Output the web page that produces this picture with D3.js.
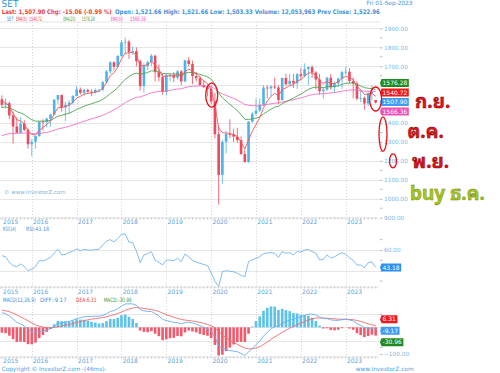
<!DOCTYPE html>
<html>
<head>
<meta charset="utf-8">
<script src="https://cdn.jsdelivr.net/npm/d3@7"></script>
<style>
body { margin: 0; background: #fff; }
svg { display: block; font-family: "DejaVu Sans", Verdana, sans-serif; }
</style>
</head>
<body>
<div id="chart"></div>
<script>
// monthly bars, May 2015 .. Sep 2023
var months = d3.timeMonth.range(new Date(2015, 4, 1), new Date(2023, 9, 1));

var opens = [1526,1496,1505,1440,1382,1349,1397,1364,
  1288,1301,1332,1408,1405,1424,1445,1524,1548,1483,1496,1508,
  1543,1577,1560,1575,1566,1562,1575,1576,1616,1673,1721,1697,
  1754,1826,1830,1776,1780,1727,1595,1701,1722,1756,1669,1642,
  1564,1653,1653,1639,1673,1620,1731,1712,1648,1637,1601,1590,
  1580,1514,1341,1126,1301,1342,1340,1328,1310,1237,1194,1408,
  1449,1466,1497,1587,1583,1593,1588,1521,1638,1605,1623,1610,
  1658,1648,1685,1695,1667,1630,1568,1576,1639,1589,1609,1635,
  1669,1671,1622,1609,1529,1533,1503,1556,1521.66];
var highs = [1546,1530,1514,1460,1430,1431,1415,1372,
  1315,1335,1408,1420,1428,1448,1525,1550,1551,1512,1520,1548,
  1596,1588,1582,1582,1578,1583,1580,1622,1680,1727,1727,1760,
  1838,1852,1840,1805,1800,1735,1715,1730,1765,1760,1710,1660,
  1660,1660,1670,1680,1680,1735,1749,1730,1670,1650,1625,1600,
  1600,1560,1380,1310,1360,1420,1370,1375,1330,1260,1410,1460,
  1530,1530,1600,1600,1600,1640,1600,1640,1660,1660,1660,1665,
  1690,1715,1700,1705,1675,1660,1590,1645,1660,1620,1640,1675,
  1697,1690,1640,1620,1570,1540,1570,1600,1521.66];
var lows = [1481,1476,1420,1291,1348,1344,1357,1265,
  1224,1265,1326,1360,1378,1380,1442,1500,1460,1410,1450,1500,
  1540,1550,1545,1555,1543,1555,1563,1568,1610,1660,1680,1690,
  1750,1762,1740,1760,1700,1570,1560,1680,1700,1620,1620,1550,
  1545,1620,1615,1630,1600,1615,1700,1605,1620,1595,1585,1540,
  1500,1320,969,1080,1240,1320,1300,1295,1230,1190,1190,1400,
  1440,1460,1490,1530,1540,1580,1500,1520,1595,1600,1585,1580,
  1625,1640,1600,1640,1580,1550,1530,1570,1575,1560,1590,1580,
  1655,1610,1530,1520,1510,1470,1490,1520,1503.33];
var closes = [1496,1505,1440,1382,1349,1397,1364,1288,
  1301,1332,1408,1405,1424,1445,1524,1548,1483,1496,1508,1543,
  1577,1560,1575,1566,1562,1575,1576,1616,1673,1721,1697,1754,
  1826,1830,1776,1780,1727,1595,1701,1722,1756,1669,1642,1564,
  1653,1653,1639,1673,1620,1731,1712,1648,1637,1601,1590,1580,
  1514,1341,1126,1301,1342,1340,1328,1310,1237,1194,1408,1449,
  1466,1497,1587,1583,1593,1588,1521,1638,1605,1623,1610,1658,
  1648,1685,1695,1667,1630,1568,1576,1639,1589,1609,1635,1669,
  1671,1622,1609,1529,1533,1503,1556,1565,1507.90];

var ema5 = [1513,1510,1487,1452,1418,1411,1395,1359,
  1340,1337,1361,1376,1392,1410,1448,1481,1482,1487,1494,1510,
  1532,1541,1552,1557,1559,1564,1568,1584,1614,1650,1666,1695,
  1739,1769,1771,1774,1758,1704,1703,1709,1725,1706,1685,1645,
  1648,1650,1646,1655,1643,1672,1685,1673,1661,1641,1624,1609,
  1577,1498,1374,1350,1347,1345,1339,1329,1298,1263,1311,1357,
  1393,1428,1481,1515,1541,1557,1545,1576,1586,1598,1602,1621,
  1630,1648,1664,1665,1653,1625,1609,1619,1609,1609,1618,1635,
  1647,1639,1629,1596,1575,1551,1553,1557,1540.72];
var ema20 = [1483,1485,1481,1472,1460,1454,1445,1430,
  1418,1410,1410,1410,1411,1414,1425,1436,1441,1446,1452,1461,
  1472,1480,1489,1496,1502,1509,1515,1525,1539,1556,1570,1587,
  1610,1631,1645,1658,1664,1658,1662,1667,1676,1675,1672,1662,
  1661,1660,1658,1660,1656,1663,1668,1666,1663,1657,1651,1644,
  1632,1604,1559,1534,1516,1499,1483,1466,1444,1420,1419,1422,
  1426,1433,1448,1461,1473,1484,1488,1502,1512,1522,1531,1543,
  1553,1565,1578,1586,1590,1588,1587,1592,1592,1593,1597,1604,
  1610,1611,1611,1603,1596,1587,1584,1582,1576.28];
var ema50 = [1333,1340,1344,1345,1345,1347,1348,1346,
  1344,1344,1346,1348,1351,1355,1362,1369,1373,1378,1383,1389,
  1396,1403,1410,1416,1422,1428,1434,1441,1450,1460,1470,1481,
  1494,1508,1518,1528,1536,1538,1545,1552,1560,1564,1567,1567,
  1570,1573,1576,1580,1581,1587,1592,1594,1596,1596,1596,1595,
  1592,1582,1564,1554,1546,1538,1530,1521,1510,1498,1494,1492,
  1491,1491,1495,1498,1502,1505,1506,1511,1515,1519,1523,1528,
  1533,1539,1545,1550,1553,1554,1555,1558,1559,1561,1564,1568,
  1572,1574,1575,1573,1571,1568,1568,1568,1566.36];

var rsi = [54.5,53.5,48,45,43.9,46.5,44,40,
  41.4,44,49.7,49.5,51,53,57,60.6,55.2,55.8,57.5,59,
  61,59.3,60.6,60,59.8,60.5,60.6,64.8,68.5,70,67.7,71,
  75.2,75.5,67.7,67.1,59,47.7,55.2,56.5,58.4,50.3,48,45.5,
  50.3,50.3,49.5,52,48.7,56.1,53.5,49.7,48.5,47.1,46,45,
  38,30,24.6,39.1,40,39.5,39,37.5,35.5,34.2,48.7,50.5,
  52,53.5,56.5,57.2,57.4,56.8,52.9,58.4,56.8,57.4,55.2,58.4,
  58,60,60.6,58.4,57,50.3,51,55.2,52,53.5,55.5,57.4,
  56,52.5,50,45.5,45.5,42.9,47.7,48.7,43.18];

var diff = [55,51.4,42.7,30.8,18.5,12.4,4.9,-7.1,
  -15.3,-19.2,-15.9,-13.4,-9.8,-5.2,4.8,14.5,16.7,19.3,22.1,26.9,
  33,36.1,39.3,40.6,40.9,41.7,41.9,44.7,51,59.2,63,69.8,
  80.1,87.6,88.2,87.9,82.5,66.8,62.2,59.5,59.4,51.7,42.9,29.4,
  25.6,22.3,18.3,17.6,12.7,17.6,19.7,16,12.1,6,0.3,-5,
  -14.3,-35.3,-68.4,-79.7,-84.3,-87.1,-89.3,-91.5,-97.9,-105.3,-92.8,-78.7,
  -65.4,-51.7,-33.3,-18.7,-6.3,3.1,5,15.8,21.5,27.1,30.2,36.1,
  39.5,44.7,49,49.6,46.5,38.7,32.7,32.6,28.2,26.1,26.2,28.7,
  30.4,27.5,23.9,14.5,7.3,-0.9,-3.1,-4,-9.17];
var dea = [65,62.3,58.4,52.9,46,39.3,32.4,24.5,
  16.5,9.4,4.3,0.8,-1.3,-2.1,-0.7,2.3,5.2,8,10.8,14,
  17.8,21.5,25.1,28.2,30.7,32.9,34.7,36.7,39.6,43.5,47.4,51.9,
  57.5,63.5,68.4,72.3,74.3,72.8,70.7,68.5,66.7,63.7,59.5,53.5,
  47.9,42.8,37.9,33.8,29.6,27.2,25.7,23.8,21.5,18.4,14.8,10.8,
  5.8,-2.4,-15.6,-28.4,-39.6,-49.1,-57.1,-64,-70.8,-77.7,-80.7,-80.3,
  -77.3,-72.2,-64.4,-55.3,-45.5,-35.8,-27.6,-18.9,-10.8,-3.2,3.5,10,
  15.9,21.7,27.2,31.7,34.7,35.5,34.9,34.4,33.2,31.8,30.7,30.3,
  30.3,29.7,28.5,25.7,22,17.4,13.3,9.8,6.31];
var macdHist = [-20,-21.8,-31.4,-44.2,-55,-53.8,-55,-63.2,
  -63.6,-57.2,-40.4,-28.4,-17,-6.2,11,24.4,23,22.6,22.6,25.8,
  30.4,29.2,28.4,24.8,20.4,17.6,14.4,16,22.8,31.4,31.2,35.8,
  45.2,48.2,39.6,31.2,16.4,-12,-17,-18,-14.6,-24,-33.2,-48.2,
  -44.6,-41,-39.2,-32.4,-33.8,-19.2,-12,-15.6,-18.8,-24.8,-29,-31.6,
  -40.2,-65.8,-105.6,-102.6,-89.4,-76,-64.4,-55,-54.2,-55.2,-24.2,3.2,
  23.8,41,62.2,73.2,78.4,77.8,65.2,69.4,64.6,60.6,53.4,52.2,
  47.2,46,43.6,35.8,23.6,6.4,-4.4,-3.6,-10,-11.4,-9,-3.2,
  0.2,-4.4,-9.2,-22.4,-29.4,-36.6,-32.8,-27.6,-30.96];

var priceTicks = [900,1000,1100,1200,1300,1400,1500,1600,1700,1800,1900];
var rsiTicks = [40, 60];
var macdTicks = [-100, -50, 0, 50];

// hand-drawn notes on the right
var notes = [
  {text: 'ก.ย.', price: 1480, color: '#d8161c', edge: '#7a0000'},
  {text: 'ต.ค.', price: 1320, color: '#d8161c', edge: '#7a0000'},
  {text: 'พ.ย.', price: 1160, color: '#d8161c', edge: '#7a0000'},
  {text: 'buy ธ.ค.', price: 995, color: '#a6c61c', edge: '#6b7d10'}
];

// --- layout ---
var svgWidth = 500, svgHeight = 373;
var axisX = 380;
var blue = '#3a93da', axisBlue = '#7ab9e6';
var upColor = '#4db4e6', downColor = '#ec4a5e';

var svg = d3.select('#chart').append('svg')
  .attr('width', svgWidth)
  .attr('height', svgHeight);

var idx = d3.range(months.length);
var x = d3.scaleBand().domain(idx).range([0, 377.5]).paddingInner(0.3).paddingOuter(0.15);
var cx = function(i) { return x(i) + x.bandwidth() / 2; };

var yMain = d3.scaleLinear().domain([900, 1900]).range([217.7, 28.4]);
var yRsi = d3.scaleLinear().domain([40, 60]).range([270.7, 250]);
var yMacd = d3.scaleLinear().domain([-100, 50]).range([354, 314]);

var panels = [
  {top: 22, bottom: 217.5, labelY: 224},
  {top: 224.5, bottom: 286.5, labelY: 293.5},
  {top: 294, bottom: 356.5, labelY: 363}
];

// clip paths
var defs = svg.append('defs');
panels.forEach(function(p, k) {
  defs.append('clipPath').attr('id', 'clip' + k)
    .append('rect').attr('x', 0).attr('y', p.top).attr('width', axisX).attr('height', p.bottom - p.top);
});

// top border
svg.append('line').attr('x1', 0).attr('x2', axisX).attr('y1', 22).attr('y2', 22)
  .attr('stroke', '#e4e4e4');

// horizontal grids
function hGrid(scale, ticks) {
  svg.append('g').selectAll('line').data(ticks).enter().append('line')
    .attr('x1', 0).attr('x2', axisX)
    .attr('y1', d => Math.round(scale(d)) + 0.5).attr('y2', d => Math.round(scale(d)) + 0.5)
    .attr('stroke', '#e6e6e6');
}
hGrid(yMain, priceTicks.slice(1));
hGrid(yRsi, rsiTicks);
hGrid(yMacd, [-50, 0, 50]);

// vertical year grids + month axes + year labels
var yearIdx = idx.filter(i => i === 0 || months[i].getMonth() === 0);
panels.forEach(function(p) {
  svg.append('g').selectAll('line').data(yearIdx.filter(i => i > 0)).enter().append('line')
    .attr('x1', d => Math.round(cx(d)) + 0.5).attr('x2', d => Math.round(cx(d)) + 0.5)
    .attr('y1', p.top).attr('y2', p.bottom)
    .attr('stroke', '#d4d4d4').attr('stroke-dasharray', '1,2');

  var ax = svg.append('g')
    .attr('transform', `translate(0, ${p.bottom})`)
    .call(d3.axisBottom(x).tickSize(2).tickFormat(''));
  ax.select('.domain').attr('stroke', '#e0e0e0');
  ax.selectAll('.tick line').attr('stroke', '#c8c8c8');

  svg.append('g').selectAll('text').data(yearIdx).enter().append('text')
    .attr('x', d => cx(d) + 1.2)
    .attr('y', p.labelY)
    .attr('font-size', '6px')
    .attr('fill', '#5aa2dc')
    .text(d => months[d].getFullYear());
});

// ---- main panel: candles ----
var main = svg.append('g').attr('clip-path', 'url(#clip0)');
var candleColor = i => closes[i] >= opens[i] ? upColor : downColor;

main.append('g').selectAll('line').data(idx).enter().append('line')
  .attr('x1', d => cx(d)).attr('x2', d => cx(d))
  .attr('y1', d => yMain(highs[d])).attr('y2', d => yMain(lows[d]))
  .attr('stroke', candleColor).attr('stroke-width', 0.8);

main.append('g').selectAll('rect').data(idx).enter().append('rect')
  .attr('x', d => x(d))
  .attr('width', x.bandwidth())
  .attr('y', d => yMain(Math.max(opens[d], closes[d])))
  .attr('height', d => Math.max(0.8, Math.abs(yMain(opens[d]) - yMain(closes[d]))))
  .attr('fill', candleColor);

// EMA lines
var emaLines = [
  {data: ema50, color: '#f470c4'},
  {data: ema20, color: '#4ea34e'},
  {data: ema5, color: '#f2545b'}
];
emaLines.forEach(function(e) {
  main.append('path').datum(e.data)
    .attr('fill', 'none').attr('stroke', e.color).attr('stroke-width', 0.9)
    .attr('d', d3.line().x((d, i) => cx(i)).y(d => yMain(d)));
});

// watermark
svg.append('text').attr('x', 4).attr('y', 193.5)
  .attr('font-size', '5.5px').attr('fill', '#79b6e2')
  .text('© www.investorZ.com');

// ---- RSI ----
var rsiG = svg.append('g').attr('clip-path', 'url(#clip1)');
rsiG.append('path').datum(rsi)
  .attr('fill', 'none').attr('stroke', '#72b4f0').attr('stroke-width', 0.9)
  .attr('d', d3.line().x((d, i) => cx(i)).y(d => yRsi(d)));

// ---- MACD ----
var macdG = svg.append('g').attr('clip-path', 'url(#clip2)');
macdG.append('g').selectAll('rect').data(idx).enter().append('rect')
  .attr('x', d => x(d))
  .attr('width', x.bandwidth())
  .attr('y', d => yMacd(Math.max(0, macdHist[d])))
  .attr('height', d => Math.abs(yMacd(macdHist[d]) - yMacd(0)))
  .attr('fill', d => macdHist[d] >= 0 ? '#5cc2ea' : '#f15a6d');
macdG.append('path').datum(dea)
  .attr('fill', 'none').attr('stroke', '#f26a6a').attr('stroke-width', 0.9)
  .attr('d', d3.line().x((d, i) => cx(i)).y(d => yMacd(d)));
macdG.append('path').datum(diff)
  .attr('fill', 'none').attr('stroke', '#6aaef0').attr('stroke-width', 0.9)
  .attr('d', d3.line().x((d, i) => cx(i)).y(d => yMacd(d)));

// ---- value tags on the right axis (they sit over the axis labels) ----
var tagYs = [];
function tags(list, anchorY, gap) {
  list.forEach(function(t, k) {
    var yy = anchorY + (k - t.anchor) * gap;
    tagYs.push(yy);
    t.y = yy;
  });
  return list;
}
var last = closes[closes.length - 1];
var allTags = [].concat(
  tags([
    {label: ema20[100].toFixed(2), color: '#1f8a1f', anchor: 2},
    {label: ema5[100].toFixed(2), color: '#f01a1a', anchor: 2},
    {label: last.toFixed(2), color: '#3f9cf2', anchor: 2},
    {label: ema50[100].toFixed(2), color: '#f04fb4', anchor: 2}
  ], yMain(last) - 0.5, 9.5),
  tags([{label: rsi[100].toFixed(2), color: '#2f8ff0', anchor: 0}], yRsi(rsi[100]), 0),
  tags([
    {label: dea[100].toFixed(2), color: '#f01a1a', anchor: 1},
    {label: diff[100].toFixed(2), color: '#3f9cf2', anchor: 1},
    {label: macdHist[100].toFixed(2), color: '#1f8a1f', anchor: 1}
  ], yMacd(diff[100]) + 1, 11.5)
);

// right axes, skipping labels hidden under a tag
function rightAxis(scale, ticks, minor) {
  var shown = ticks.filter(v => !tagYs.some(t => Math.abs(scale(v) - t) < 8.5));
  var g = svg.append('g').attr('transform', `translate(${axisX}, 0)`)
    .call(d3.axisRight(scale).tickValues(ticks).tickSize(2.5).tickPadding(1.5).tickFormat(d3.format('.2f')));
  g.select('.domain').remove();
  g.selectAll('.tick line').attr('stroke', '#bbb');
  g.selectAll('.tick text').filter(d => shown.indexOf(d) < 0).remove();
  g.selectAll('text').attr('font-size', '5.8px').attr('fill', axisBlue).attr('font-family', 'DejaVu Sans');
  svg.append('g').selectAll('line').data(minor).enter().append('line')
    .attr('x1', axisX).attr('x2', axisX + 2.5)
    .attr('y1', d => scale(d)).attr('y2', d => scale(d))
    .attr('stroke', '#bbb');
}
rightAxis(yMain, priceTicks, d3.range(950, 1900, 100));
rightAxis(yRsi, rsiTicks, [30, 50, 70]);
rightAxis(yMacd, macdTicks, [-75, -25, 25]);

allTags.forEach(function(t) {
  var g = svg.append('g').attr('transform', `translate(${axisX}, ${t.y})`);
  var txt = g.append('text').attr('x', 2.5).attr('y', 2.1)
    .attr('font-size', '6px').attr('fill', '#fff').text(t.label);
  var w = txt.node().getComputedTextLength() + 4;
  g.insert('path', 'text')
    .attr('d', `M0,0 L1.5,-4 L${w},-4 L${w},4 L1.5,4 Z`)
    .attr('fill', t.color);
});

// text squeezed horizontally to the width it has in the picture
function squeezed(d, y, size, weight) {
  var t = svg.append('text')
    .attr('font-size', size + 'px').attr('font-weight', weight || 'normal')
    .attr('fill', d.c).text(d.t);
  var natural = t.node().getComputedTextLength();
  t.attr('transform', `translate(${d.x}, ${y}) scale(${d.w / natural}, 1)`);
}
function legendRow(items, y) {
  items.forEach(d => squeezed(d, y, 6));
}

// ---- header ----
svg.append('text').attr('x', 1.5).attr('y', 7.2)
  .attr('font-size', '9px').attr('fill', '#2f8fe0').text('SET');
svg.append('text').attr('x', 366.5).attr('y', 5.2)
  .attr('font-size', '5.8px').attr('fill', blue).text('Fri 01-Sep-2023');

var fmt = d3.format(',.2f');
var prev = 1522.96;
squeezed({x: 1.7, w: 110, c: '#ea4141',
  t: `Last: ${fmt(last)} Chg: ${(last - prev).toFixed(2)} (${((last - prev) / prev * 100).toFixed(2)} %)`}, 13.9, 6.3, 'bold');
squeezed({x: 115, w: 265, c: blue,
  t: `Open: ${fmt(opens[100])} High: ${fmt(highs[100])} Low: ${fmt(lows[100])} Volume: 12,053,963 Prev Close: ${fmt(prev)}`}, 13.9, 6.3, 'bold');

legendRow([
  {x: 6.7, w: 7, t: 'SET', c: blue},
  {x: 16, w: 11, t: 'EMA(5)', c: '#ee3b3b'},
  {x: 29.3, w: 12.5, t: ema5[100].toFixed(2), c: '#ee3b3b'},
  {x: 63.3, w: 12, t: 'EMA(20)', c: '#3f9a3f'},
  {x: 81.7, w: 13, t: ema20[100].toFixed(2), c: '#3f9a3f'},
  {x: 110.7, w: 12.5, t: 'EMA(50)', c: '#ef4fb2'},
  {x: 130, w: 16, t: ema50[100].toFixed(2), c: '#ef4fb2'}
], 21.4);

legendRow([
  {x: 2.7, w: 13.3, t: 'RSI(14)', c: blue},
  {x: 26, w: 23, t: 'RSI:' + rsi[100].toFixed(2), c: blue}
], 231.3);

legendRow([
  {x: 2.7, w: 33, t: 'MACD(12,26,9)', c: blue},
  {x: 40, w: 26.5, t: 'DIFF:' + diff[100].toFixed(2), c: blue},
  {x: 76, w: 20.5, t: 'DEA:' + dea[100].toFixed(2), c: '#ea4141'},
  {x: 103.7, w: 28, t: 'MACD:' + macdHist[100].toFixed(2), c: '#3f9a3f'}
], 301.6);

squeezed({x: 1.7, w: 105, c: '#4a9ee0', t: 'Copyright © InvestorZ.com -(46ms)-'}, 371, 5.8);
squeezed({x: 355.7, w: 58, c: '#4a9ee0', t: 'www.InvestorZ.com'}, 371, 5.8);

// ---- annotations ----
var rings = [
  {x: cx(56) + 0.5, price: 1548, rx: 6, ry: 12},
  {x: cx(100), price: 1527, rx: 6, ry: 12},
  {x: 383, price: 1342, rx: 4, ry: 17},
  {x: 393, price: 1200, rx: 3.5, ry: 7}
];
svg.append('g').selectAll('ellipse').data(rings).enter().append('ellipse')
  .attr('cx', d => d.x).attr('cy', d => yMain(d.price))
  .attr('rx', d => d.rx).attr('ry', d => d.ry)
  .attr('fill', 'none').attr('stroke', '#e3121b').attr('stroke-width', 1.3);

var noteX = [415, 407.5, 412, 410];
svg.append('g').selectAll('text').data(notes).enter().append('text')
  .attr('x', (d, i) => noteX[i])
  .attr('y', d => yMain(d.price))
  .attr('font-family', '"Noto Sans Thai Looped", "Noto Serif Thai", Tahoma, Loma, Garuda, Norasi, "Noto Sans Thai", "Noto Sans", sans-serif')
  .attr('font-size', '19px').attr('font-weight', 'bold')
  .attr('fill', d => d.color).attr('stroke', d => d.edge).attr('stroke-width', 0.4)
  .text(d => d.text);
</script>
</body>
</html>
